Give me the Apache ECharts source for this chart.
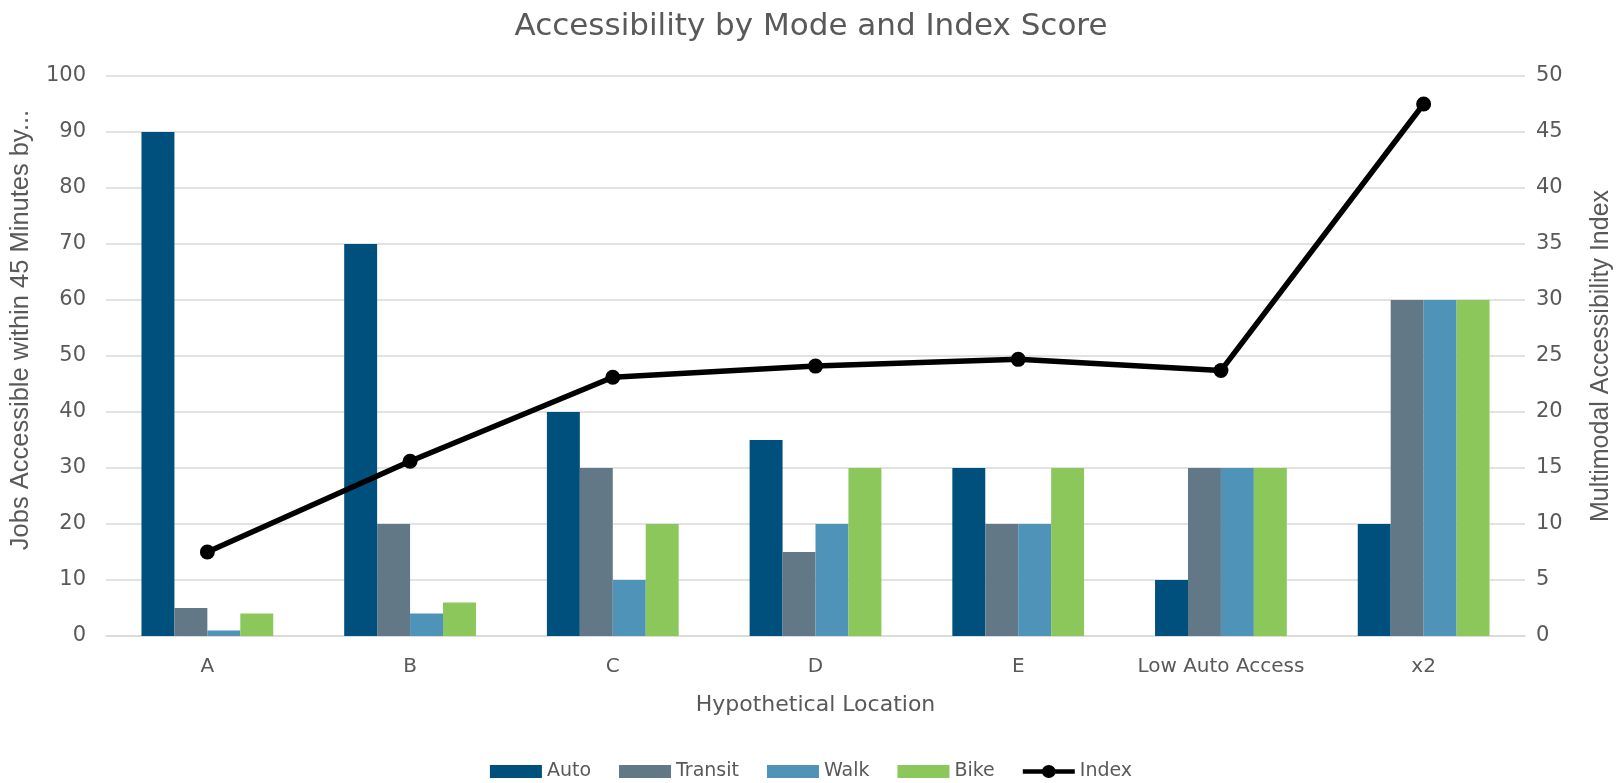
<!DOCTYPE html>
<html>
<head>
<meta charset="utf-8">
<script src="https://cdn.jsdelivr.net/npm/echarts@6/dist/echarts.min.js"></script>
<style>html,body{margin:0;padding:0;background:#fff;}#c{width:1622px;height:783px;}</style>
</head>
<body>
<div id="c"></div>
<script>
const categories = ['A', 'B', 'C', 'D', 'E', 'Low Auto Access', 'x2'];
const auto    = [90, 70, 40, 35, 30, 10, 20];
const transit = [5, 20, 30, 15, 20, 30, 60];
const walk    = [1, 4, 10, 20, 20, 30, 60];
const bike    = [4, 6, 20, 30, 30, 30, 60];
const indexScore = [7.5, 15.6, 23.1, 24.1, 24.7, 23.7, 47.5];
const leftTicks = {min: 0, max: 100, interval: 10};
const rightTicks = {min: 0, max: 50, interval: 5};

const txt = '#595959';
const fontA = 'DejaVu Sans';
const fontB = 'Liberation Sans';
const chart = echarts.init(document.getElementById('c'), null, {renderer: 'canvas'});
function bar(name, data, color) {
  return {name, type: 'bar', data, yAxisIndex: 0, barGap: '0%', barCategoryGap: '35%',
    itemStyle: {color}, emphasis: {disabled: true}};
}
const lineIcon = 'path://M0,4.6 H20 V9.4 H0 Z M32,4.6 H52 V9.4 H32 Z M19,7 A7,7 0 1 1 33,7 A7,7 0 1 1 19,7 Z';
chart.setOption({
  animation: false,
  title: {text: 'Accessibility by Mode and Index Score', left: 'center', top: 6,
    textStyle: {color: txt, fontFamily: fontA, fontWeight: 'normal', fontSize: 31}},
  grid: {left: 106, right: 96, top: 76, bottom: 147},
  legend: {bottom: -3, left: 'center', itemWidth: 52, itemHeight: 13, itemGap: 28,
    symbolKeepAspect: false,
    textStyle: {color: txt, fontFamily: fontA, fontSize: 19},
    data: [{name: 'Auto', icon: 'rect'}, {name: 'Transit', icon: 'rect'},
      {name: 'Walk', icon: 'rect'}, {name: 'Bike', icon: 'rect'},
      {name: 'Index', icon: lineIcon, itemStyle: {color: '#000'}}]},
  xAxis: {type: 'category', data: categories,
    name: 'Hypothetical Location', nameLocation: 'middle', nameGap: 58,
    nameTextStyle: {color: txt, fontFamily: fontA, fontSize: 22},
    axisLine: {lineStyle: {color: '#D9D9D9', width: 1.5}}, axisTick: {show: false},
    axisLabel: {color: txt, fontFamily: fontA, fontSize: 20, margin: 21, interval: 0}},
  yAxis: [
    {type: 'value', min: leftTicks.min, max: leftTicks.max, interval: leftTicks.interval,
      name: 'Jobs Accessible within 45 Minutes by...', nameLocation: 'middle', nameGap: 72,
      nameTextStyle: {color: txt, fontFamily: fontB, fontSize: 25.5, padding: [0, 0, 0, 52]},
      axisLine: {show: false}, axisTick: {show: false},
      splitLine: {lineStyle: {color: '#D9D9D9', width: 1.5}},
      axisLabel: {color: txt, fontFamily: fontA, fontSize: 21, margin: 20}},
    {type: 'value', min: rightTicks.min, max: rightTicks.max, interval: rightTicks.interval,
      name: 'Multimodal Accessibility Index', nameLocation: 'middle', nameGap: 64,
      nameRotate: 90, nameTextStyle: {color: txt, fontFamily: fontB, fontSize: 25},
      axisLine: {show: false}, axisTick: {show: false}, splitLine: {show: false},
      axisLabel: {color: txt, fontFamily: fontA, fontSize: 21, margin: 11}}
  ],
  series: [
    bar('Auto', auto, '#00507D'),
    bar('Transit', transit, '#637886'),
    bar('Walk', walk, '#5093B8'),
    bar('Bike', bike, '#8BC75B'),
    {name: 'Index', type: 'line', yAxisIndex: 1, data: indexScore, symbol: 'circle',
      symbolSize: 15, lineStyle: {color: '#000', width: 5.5}, itemStyle: {color: '#000'},
      emphasis: {disabled: true}, z: 5}
  ]
});
</script>
</body>
</html>
